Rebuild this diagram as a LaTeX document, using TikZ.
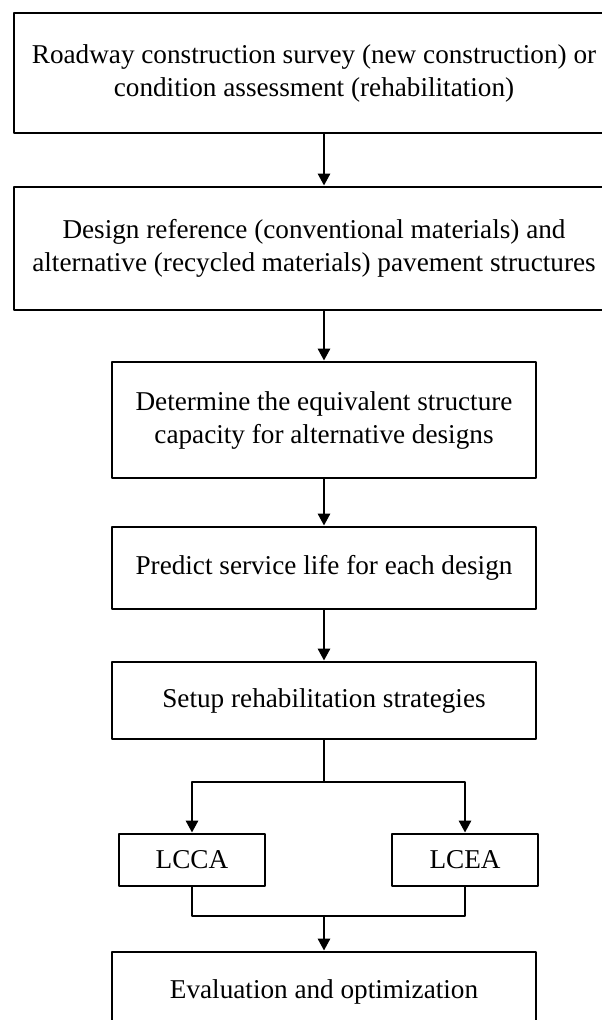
\documentclass[tikz,border=0pt]{standalone}
\usepackage{fontspec}
\setmainfont{Liberation Serif}
\usetikzlibrary{arrows.meta}
\tikzset{
  stepbox/.style={draw, line width=1.4pt, align=center, inner sep=0pt,
    font=\fontsize{13.6}{16.5}\selectfont},
  widebox/.style={stepbox, minimum width=300pt},
  midbox/.style={stepbox, minimum width=212pt},
  smallbox/.style={stepbox, minimum width=73pt, minimum height=26pt},
  arr/.style={-{Triangle[length=6pt,width=6pt]}, line width=1.4pt},
}
\begin{document}
\begin{tikzpicture}[x=0.5pt,y=-0.5pt, line width=1.4pt, line join=round]
\useasboundingbox (0,0) rectangle (601,1020);
\node[widebox, minimum height=60pt] (bx0) at (314,73)
  {Roadway construction survey (new construction) or\\condition assessment (rehabilitation)};
\node[widebox, minimum height=61.5pt] (bx1) at (314,248.5)
  {Design reference (conventional materials) and\\alternative (recycled materials) pavement structures};
\node[midbox, minimum height=58pt] (bx2) at (324,420)
  {Determine the equivalent structure\\capacity for alternative designs};
\node[midbox, minimum height=41pt] (bx3) at (324,568) {Predict service life for each design};
\node[midbox, minimum height=38.5pt] (bx4) at (324,700.5) {Setup rehabilitation strategies};
\node[smallbox] (lcca) at (192,860) {LCCA};
\node[smallbox] (lcea) at (465,860) {LCEA};
\node[midbox, minimum height=40pt] (bx5) at (324,992) {Evaluation and optimization};
\coordinate (split) at (324,782);
\coordinate (merge) at (324,916);
\draw[arr] (bx0.south -| bx2.north) -- (bx1.north -| bx2.north);
\draw[arr] (bx1.south -| bx2.north) -- (bx2.north);
\draw[arr] (bx2) -- (bx3);
\draw[arr] (bx3) -- (bx4);
\draw (bx4.south) -- (split);
\draw[arr] (split) -| (lcca.north);
\draw[arr] (split) -| (lcea.north);
\draw (lcca.south) |- (merge) -| (lcea.south);
\draw[arr] (merge) -- (bx5.north);
\end{tikzpicture}
\end{document}
